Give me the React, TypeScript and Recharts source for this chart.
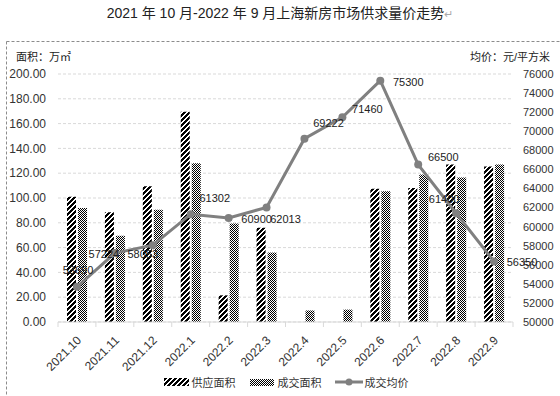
import React from 'react';
import { ComposedChart, Bar, Line, XAxis, YAxis, CartesianGrid, LabelList, Legend } from 'recharts';

// ---- data ----
const months = ['2021.10', '2021.11', '2021.12', '2022.1', '2022.2', '2022.3', '2022.4', '2022.5', '2022.6', '2022.7', '2022.8', '2022.9'];
const supplyArea = [101, 88.5, 109.5, 169.5, 21.5, 76, 0, 0, 107.5, 108, 127, 125.5];
const dealArea = [92, 69.5, 90.5, 128, 79.5, 56, 9.3, 10, 105.5, 119, 116.5, 127];
const avgPrice = [53690, 57224, 58053, 61302, 60900, 62013, 69222, 71460, 75300, 66500, 61400, 56350];
const areaTicks = [0, 20, 40, 60, 80, 100, 120, 140, 160, 180, 200];
const priceTicks = [50000, 52000, 54000, 56000, 58000, 60000, 62000, 64000, 66000, 68000, 70000, 72000, 74000, 76000];
const labelPlacement = ['above', 'left', 'lowerLeft', 'upperRight', 'right', 'lowerRight', 'upperRight', 'rightUp', 'right', 'rightUp', 'upperLeft', 'right'];

const data = months.map((m, i) => ({ month: m, supply: supplyArea[i], deal: dealArea[i], price: avgPrice[i] }));

// ---- layout / style ----
const W = 560;
const H = 396;
const LEFT_AXIS_W = 58;
const RIGHT_AXIS_W = 47;
const X_AXIS_H = 50;
const LEGEND_H = 20;
const PLOT_W = W - LEFT_AXIS_W - RIGHT_AXIS_W;
const AXIS_COLOR = '#d9d9d9';
const TEXT_COLOR = '#333333';
const LINE_COLOR = '#808080';
const FONT = "'Liberation Sans', 'Noto Sans CJK SC', sans-serif";

const NUDGE: Record<string, [number, number]> = {
  above: [1, -17],
  left: [-11, 1],
  lowerLeft: [-10, 9],
  upperRight: [24, -16],
  rightUp: [25, -8],
  right: [28, 1],
  lowerRight: [19, 12],
  upperLeft: [-12, -14],
};

// crisp "/" stripe pattern
const STRIPE_P = 5;
const stripeCells: [number, number][] = [];
for (let yy = 0; yy < STRIPE_P; yy++) {
  for (let xx = 0; xx < STRIPE_P; xx++) {
    const s = (xx + yy) % STRIPE_P;
    if (s === 0 || s === 1 || s === 2) stripeCells.push([xx, yy]);
  }
}

const XTick = (props: any) => {
  const { x, y, payload, index } = props;
  const band = PLOT_W / months.length;
  return (
    <g>
      <line x1={x - band / 2} x2={x - band / 2} y1={y} y2={y + 5} stroke={AXIS_COLOR} />
      {index === months.length - 1 && (
        <line x1={x + band / 2} x2={x + band / 2} y1={y} y2={y + 5} stroke={AXIS_COLOR} />
      )}
      <text
        transform={`translate(${x + 5},${y + 19}) rotate(-45)`}
        textAnchor="end"
        fontSize={12}
        fill={TEXT_COLOR}
        fontFamily={FONT}
      >
        {payload.value}
      </text>
    </g>
  );
};

const PriceLabel = (props: any) => {
  const { x, y, value, index } = props;
  const [dx, dy] = NUDGE[labelPlacement[index]] || [0, -12];
  return (
    <text
      x={x + dx}
      y={y + dy}
      textAnchor="middle"
      dominantBaseline="central"
      fontSize={11}
      fill="#222"
      fontFamily={FONT}
    >
      {value}
    </text>
  );
};

const LegendContent = () => (
  <div
    style={{
      height: LEGEND_H,
      display: 'flex',
      justifyContent: 'center',
      alignItems: 'center',
      fontSize: 11,
      color: TEXT_COLOR,
      fontFamily: FONT,
      paddingLeft: 12,
    }}
  >
    <svg width={25} height={8} style={{ marginRight: 3 }}>
      <rect x={0} y={0} width={25} height={8} fill="url(#stripePat)" />
    </svg>
    <span style={{ marginRight: 14 }}>供应面积</span>
    <svg width={24} height={7} style={{ marginRight: 4 }}>
      <rect x={0} y={0} width={24} height={7} fill="url(#checkPat)" />
    </svg>
    <span style={{ marginRight: 13 }}>成交面积</span>
    <svg width={28} height={10} style={{ marginRight: 2 }}>
      <line x1={0} x2={28} y1={5} y2={5} stroke={LINE_COLOR} strokeWidth={3} />
      <circle cx={14} cy={5} r={3.5} fill={LINE_COLOR} />
    </svg>
    <span>成交均价</span>
  </div>
);

export default function App() {
  return (
    <div style={{ position: 'absolute', left: 0, top: 0, width: W, height: H, background: '#fff', fontFamily: FONT }}>
      <svg width={W} height={H} style={{ position: 'absolute', left: 0, top: 0 }}>
        <line x1={6.5} x2={W} y1={41.5} y2={41.5} stroke="#8c8c8c" strokeDasharray="3 2" />
        <line x1={6.5} x2={6.5} y1={41.5} y2={H} stroke="#8c8c8c" strokeDasharray="3 2" />
      </svg>
      <div
        style={{
          position: 'absolute',
          left: 0,
          top: 3,
          width: W,
          textAlign: 'center',
          fontSize: 14,
          color: '#222',
          lineHeight: '20px',
          fontFamily: FONT,
        }}
      >
        2021 年 10 月-2022 年 9 月上海新房市场供求量价走势<span style={{ color: '#aaa', fontSize: 11 }}>↵</span>
      </div>
      <div style={{ position: 'absolute', left: 16, top: 49, fontSize: 11, color: '#222', lineHeight: '16px' }}>
        面积：万㎡
      </div>
      <div style={{ position: 'absolute', right: 10, top: 49, fontSize: 11, color: '#222', lineHeight: '16px' }}>
        均价：元/平方米
      </div>
      <div style={{ position: 'absolute', left: 0, top: 0 }}>
        <ComposedChart
          width={W}
          height={H}
          data={data}
          margin={{ top: 74, right: 0, left: 0, bottom: 4 }}
          barGap={2}
          barSize={9}
        >
          <defs>
            <pattern id="stripePat" patternUnits="userSpaceOnUse" width={STRIPE_P} height={STRIPE_P}>
              <rect x={0} y={0} width={STRIPE_P} height={STRIPE_P} fill="#fff" />
              {stripeCells.map(([cx, cy]) => (
                <rect key={`${cx}-${cy}`} x={cx} y={cy} width={1} height={1} fill="#000" shapeRendering="crispEdges" />
              ))}
            </pattern>
            <pattern id="checkPat" patternUnits="userSpaceOnUse" width={2} height={2}>
              <rect x={0} y={0} width={2} height={2} fill="#fff" />
              <rect x={0} y={0} width={1} height={1} fill="#000" shapeRendering="crispEdges" />
              <rect x={1} y={1} width={1} height={1} fill="#000" shapeRendering="crispEdges" />
            </pattern>
          </defs>
          <CartesianGrid yAxisId="left" vertical={false} stroke={AXIS_COLOR} strokeDasharray="3 2" />
          <XAxis
            dataKey="month"
            height={X_AXIS_H}
            interval={0}
            axisLine={{ stroke: AXIS_COLOR }}
            tickLine={false}
            tickSize={0}
            tickMargin={0}
            tick={<XTick />}
          />
          <YAxis
            yAxisId="left"
            width={LEFT_AXIS_W}
            domain={[0, 200]}
            ticks={areaTicks}
            tickFormatter={(v: number) => v.toFixed(2)}
            axisLine={false}
            tickLine={false}
            tickSize={0}
            tickMargin={12}
            tick={{ fontSize: 12, fill: TEXT_COLOR, fontFamily: FONT }}
            interval={0}
          />
          <YAxis
            yAxisId="right"
            orientation="right"
            width={RIGHT_AXIS_W}
            domain={[50000, 76000]}
            ticks={priceTicks}
            axisLine={false}
            tickLine={false}
            tickSize={0}
            tickMargin={10}
            tick={{ fontSize: 11, fill: TEXT_COLOR, fontFamily: FONT }}
            interval={0}
          />
          <Legend verticalAlign="bottom" height={LEGEND_H} content={<LegendContent />} />
          <Bar yAxisId="left" dataKey="supply" name="供应面积" fill="url(#stripePat)" isAnimationActive={false} />
          <Bar yAxisId="left" dataKey="deal" name="成交面积" fill="url(#checkPat)" isAnimationActive={false} />
          <Line
            yAxisId="right"
            dataKey="price"
            name="成交均价"
            stroke={LINE_COLOR}
            strokeWidth={3}
            dot={{ r: 4, fill: LINE_COLOR, stroke: LINE_COLOR, strokeWidth: 0 }}
            activeDot={false}
            isAnimationActive={false}
          >
            <LabelList dataKey="price" content={<PriceLabel />} />
          </Line>
        </ComposedChart>
      </div>
    </div>
  );
}
